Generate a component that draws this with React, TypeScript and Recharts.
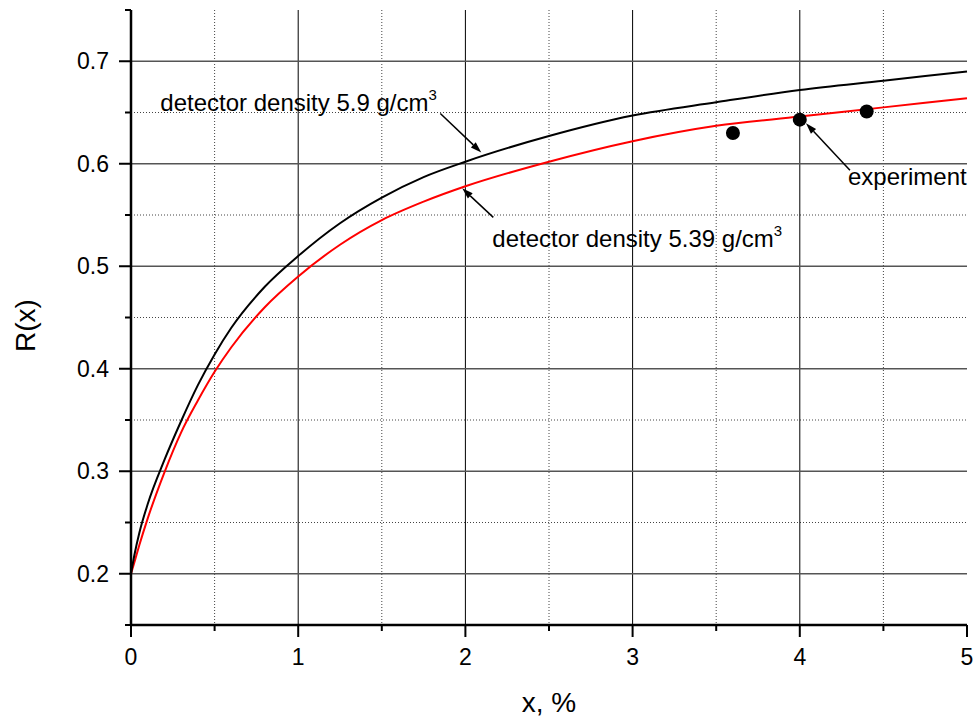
import { ComposedChart, Line, Scatter, XAxis, YAxis, CartesianGrid, ReferenceLine } from "recharts"

const FONT = "'Liberation Sans', Arial, sans-serif"

// x, % (sample points)
const xs = [0, 0.02, 0.05, 0.1, 0.2, 0.3, 0.4, 0.5, 0.6, 0.8, 1, 1.25, 1.5, 1.75, 2, 2.5, 3, 3.5, 4, 4.5, 5]
// detector density 5.9 g/cm3 (black)
const rDense = [0.2, 0.218, 0.24, 0.268, 0.311, 0.349, 0.384, 0.414, 0.44, 0.48, 0.51, 0.542, 0.567, 0.587, 0.602, 0.627, 0.647, 0.66, 0.672, 0.681, 0.69]
// detector density 5.39 g/cm3 (red)
const rLight = [0.2, 0.211, 0.228, 0.254, 0.299, 0.338, 0.369, 0.397, 0.421, 0.46, 0.49, 0.521, 0.545, 0.563, 0.578, 0.602, 0.622, 0.637, 0.646, 0.655, 0.664]

// experiment points
const expX = [3.6, 4.0, 4.4]
const expR = [0.630, 0.643, 0.651]

const xMajor = [0, 1, 2, 3, 4, 5]
const xTicks = [0, 0.5, 1, 1.5, 2, 2.5, 3, 3.5, 4, 4.5, 5]
const xMinor = [0.5, 1.5, 2.5, 3.5, 4.5]
const yMajor = [0.2, 0.3, 0.4, 0.5, 0.6, 0.7]
const yTicks = [0.15, 0.2, 0.25, 0.3, 0.35, 0.4, 0.45, 0.5, 0.55, 0.6, 0.65, 0.7, 0.75]
const yMinor = [0.25, 0.35, 0.45, 0.55, 0.65]

const denseData = xs.map((x, i) => ({ x, y: rDense[i] }))
const lightData = xs.map((x, i) => ({ x, y: rLight[i] }))
const expData = expX.map((x, i) => ({ x, y: expR[i] }))

// arrows: from label end to curve, in data units
const notes = [
  { from: { x: 1.85, y: 0.649 }, to: { x: 2.095, y: 0.611 }, text: "detector density 5.9 g/cm", sup: "3", dx: -280, dy: -3 },
  { from: { x: 2.167, y: 0.5477 }, to: { x: 1.981, y: 0.576 }, text: "detector density 5.39 g/cm", sup: "3", dx: -1, dy: 30 },
  { from: { x: 4.3, y: 0.5936 }, to: { x: 4.037, y: 0.6395 }, text: "experiment", sup: "", dx: -2, dy: 15 },
]

function XTick({ x, y, payload }: any) {
  const major = xMajor.includes(payload.value)
  return (
    <g>
      <line x1={x} y1={y} x2={x} y2={y + (major ? 12 : 6)} stroke="#000" strokeWidth={2} />
      {major && (
        <text x={x} y={y + 40} textAnchor="middle" fontSize={23} fontFamily={FONT} fill="#000">
          {payload.value}
        </text>
      )}
    </g>
  )
}

function YTick({ x, y, payload }: any) {
  const major = yMajor.includes(payload.value)
  return (
    <g>
      <line x1={x - (major ? 12 : 6)} y1={y} x2={x} y2={y} stroke="#000" strokeWidth={2} />
      {major && (
        <text x={x - 22} y={y + 8} textAnchor="end" fontSize={23} fontFamily={FONT} fill="#000">
          {payload.value.toFixed(1)}
        </text>
      )}
    </g>
  )
}

function arrowShape(n: (typeof notes)[number]) {
  return (p: any) => {
    const { x1, y1, x2, y2 } = p
    const a = Math.atan2(y2 - y1, x2 - x1)
    const len = 11
    const w = 3.5
    const bx = x2 - len * Math.cos(a)
    const by = y2 - len * Math.sin(a)
    const px = -Math.sin(a) * w
    const py = Math.cos(a) * w
    return (
      <g>
        <line x1={x1} y1={y1} x2={bx} y2={by} stroke="#000" strokeWidth={1.5} />
        <polygon points={`${x2},${y2} ${bx + px},${by + py} ${bx - px},${by - py}`} fill="#000" />
        <text x={x1 + n.dx} y={y1 + n.dy} fontSize={24} fontFamily={FONT} fill="#000">
          {n.text}
          {n.sup && (
            <tspan fontSize={15} dy={-11}>
              {n.sup}
            </tspan>
          )}
        </text>
      </g>
    )
  }
}

export default function App() {
  return (
    <div style={{ position: "absolute", left: 0, top: 0, width: 978, height: 722, background: "#fff" }}>
      <ComposedChart width={978} height={722} margin={{ top: 10, right: 11, bottom: 0, left: 0 }}>
        <CartesianGrid horizontal={false} verticalValues={xMinor} stroke="#444" strokeDasharray="1 2" />
        <CartesianGrid vertical={false} horizontalValues={yMinor} stroke="#444" strokeDasharray="1 2" />
        <CartesianGrid horizontal={false} verticalValues={[1, 2, 3, 4]} stroke="#000" strokeWidth={1} />
        <CartesianGrid vertical={false} horizontalValues={yMajor} stroke="#555" strokeWidth={1.3} />
        <XAxis
          type="number"
          dataKey="x"
          domain={[0, 5]}
          ticks={xTicks}
          interval={0}
          height={97}
          tickSize={0}
          tickMargin={0}
          tickLine={false}
          axisLine={{ stroke: "#000", strokeWidth: 2.5 }}
          tick={<XTick />}
          label={{
            content: ({ viewBox }: any) => (
              <text x={viewBox.x + viewBox.width / 2} y={viewBox.y + 87} textAnchor="middle" fontSize={28} fontFamily={FONT} fill="#000">
                x, %
              </text>
            ),
          }}
        />
        <YAxis
          type="number"
          dataKey="y"
          domain={[0.15, 0.75]}
          ticks={yTicks}
          interval={0}
          width={131}
          tickSize={0}
          tickMargin={0}
          tickLine={false}
          axisLine={{ stroke: "#000", strokeWidth: 2.5 }}
          tick={<YTick />}
          label={{
            content: ({ viewBox }: any) => (
              <text
                x={35}
                y={viewBox.y + viewBox.height / 2 + 8}
                transform={`rotate(-90 35 ${viewBox.y + viewBox.height / 2 + 8})`}
                textAnchor="middle"
                fontSize={28}
                fontFamily={FONT}
                fill="#000"
              >
                R(x)
              </text>
            ),
          }}
        />
        <Line data={lightData} dataKey="y" type="monotone" stroke="#ff0000" strokeWidth={2} dot={false} isAnimationActive={false} />
        <Line data={denseData} dataKey="y" type="monotone" stroke="#000" strokeWidth={2} dot={false} isAnimationActive={false} />
        <Scatter
          data={expData}
          dataKey="y"
          fill="#000"
          isAnimationActive={false}
          shape={(p: any) => <circle cx={p.cx} cy={p.cy} r={7} fill="#000" />}
        />
        {notes.map((n, i) => (
          <ReferenceLine key={i} segment={[n.from, n.to]} shape={arrowShape(n)} />
        ))}
      </ComposedChart>
    </div>
  )
}
